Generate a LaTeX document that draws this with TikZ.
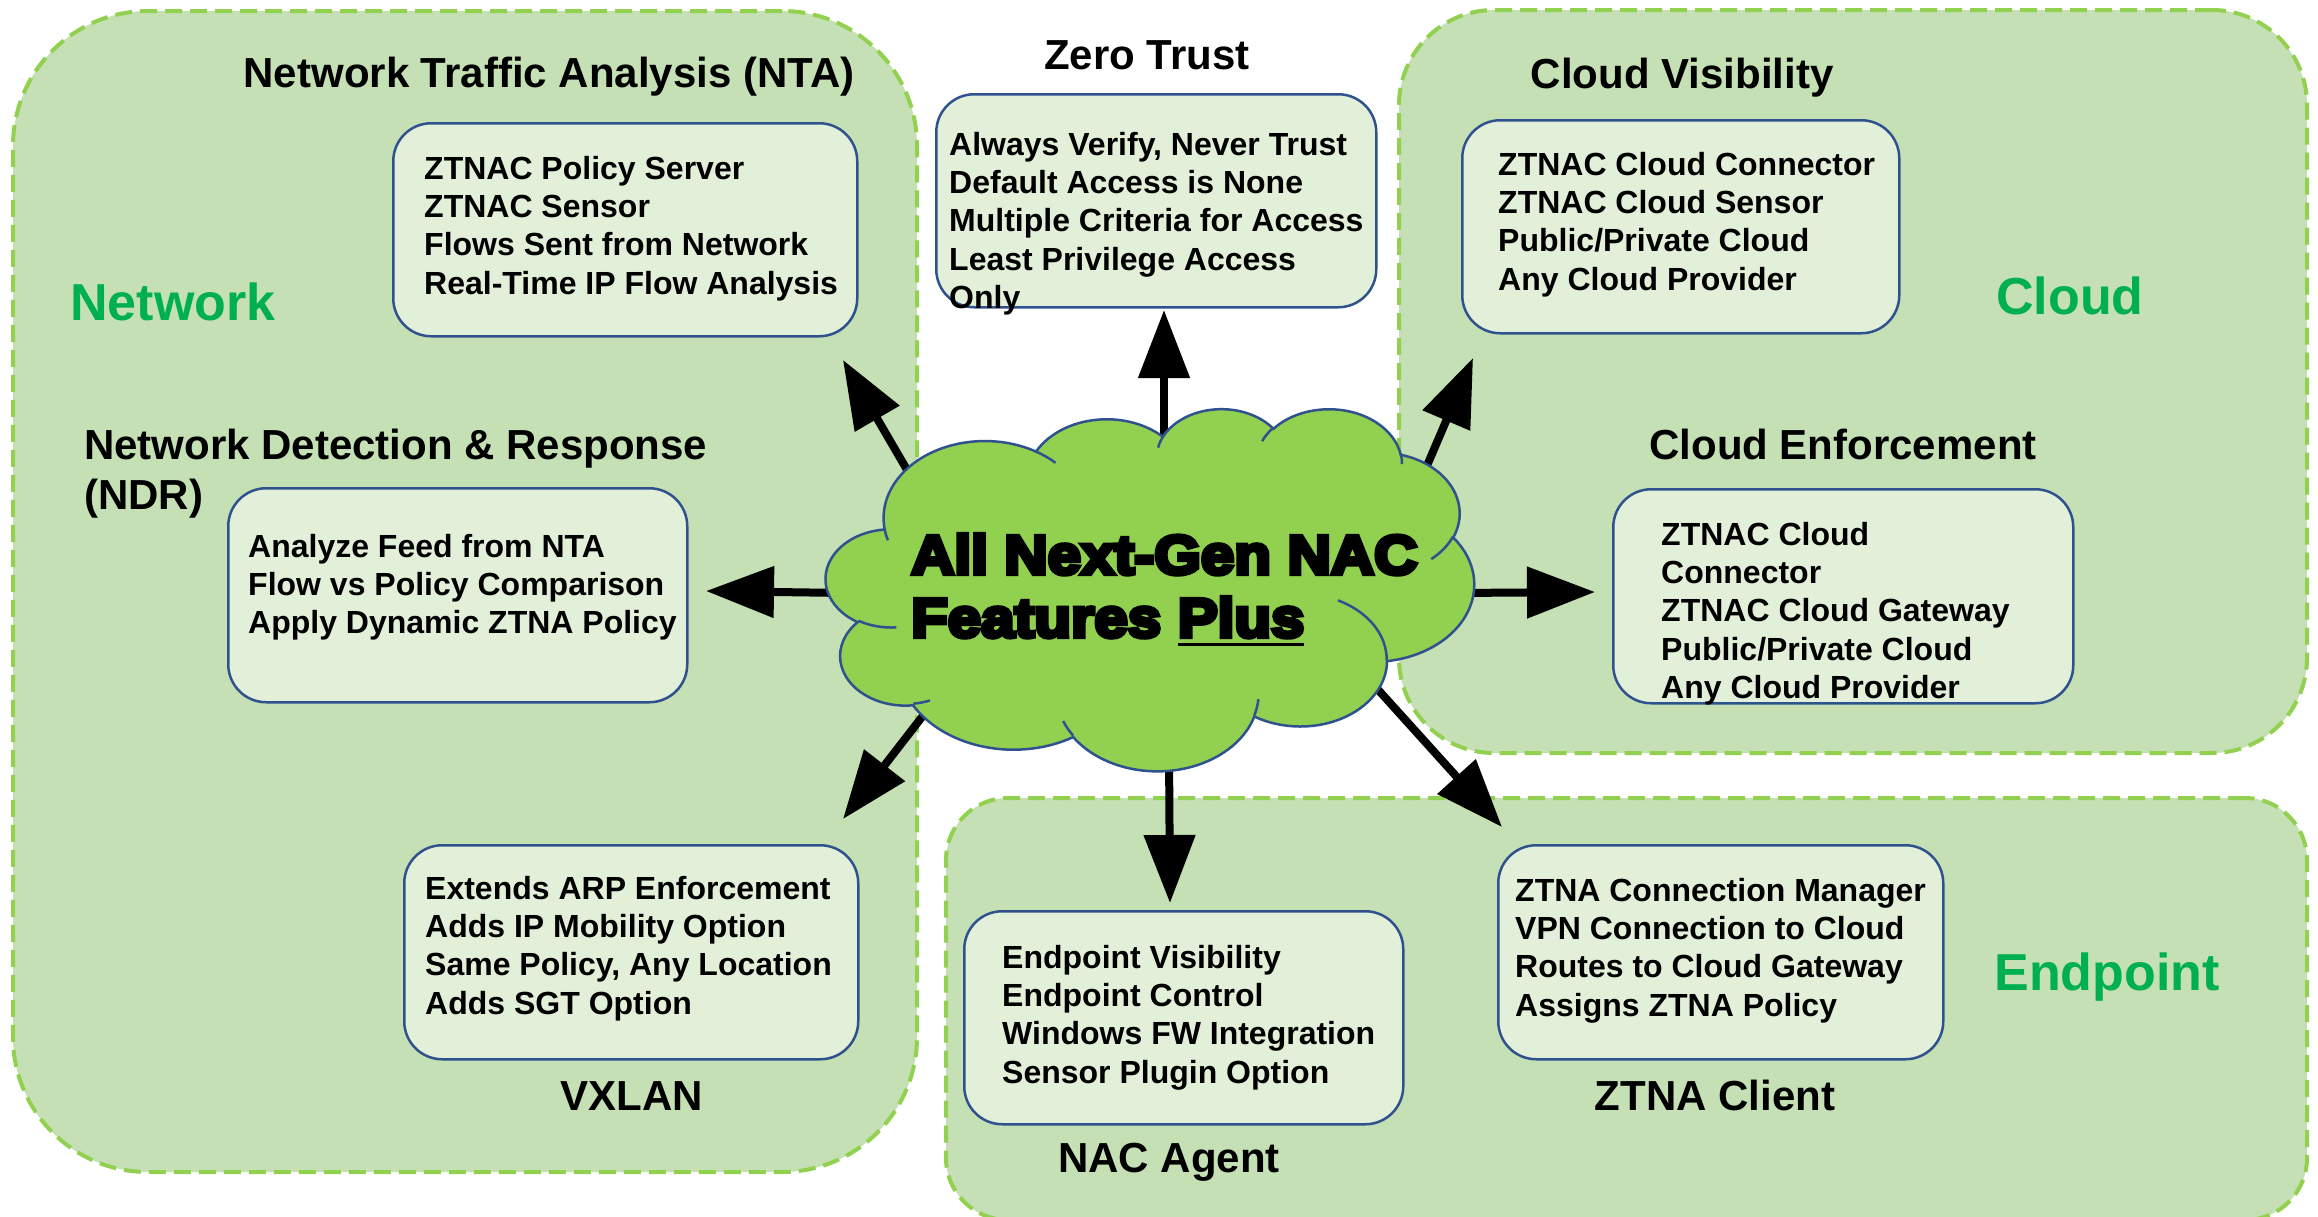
\documentclass[tikz,border=0pt]{standalone}
\usepackage{fontspec}
\setmainfont{Liberation Sans}
\newfontfamily\cloudfont{Liberation Sans}[FakeStretch=1.09]
\usetikzlibrary{arrows.meta}
\definecolor{regfill}{HTML}{C5E0B4}
\definecolor{regline}{HTML}{92D050}
\definecolor{boxfill}{HTML}{E2F0D9}
\definecolor{boxline}{HTML}{2F528F}
\definecolor{cloudfill}{HTML}{92D050}
\definecolor{labgreen}{HTML}{00B050}
\newcommand{\tlines}[2][38.4pt]{\vtop{\baselineskip=#1\lineskiplimit=-100pt\lineskip=0pt\relax #2}}
\newcommand{\ulplus}[1]{\setbox0\hbox{#1}\rlap{\rule[-9pt]{\wd0}{3.5pt}}\box0}
\newcommand{\heavytext}[1]{\special{pdf:literal direct 2 Tr 4.4 w}#1\special{pdf:literal direct 0 Tr 1 w}}
\tikzset{
  region/.style={fill=regfill, draw=regline, line width=4pt, dash pattern=on 17pt off 8pt, anchor=north west, inner sep=0pt},
  infobox/.style={fill=boxfill, draw=boxline, line width=2.5pt, rounded corners=38pt, anchor=north west, inner sep=0pt},
  boxtext/.style={anchor=base west, inner sep=0pt, font=\bfseries\fontsize{32}{38.4}\selectfont},
  title/.style={anchor=base, inner sep=0pt, font=\bfseries\fontsize{42}{50}\selectfont},
  titleleft/.style={title, anchor=base west},
  grouplabel/.style={anchor=base, inner sep=0pt, text=labgreen, font=\bfseries\fontsize{52}{60}\selectfont},
  bigarrow/.style={line width=8pt, -{Triangle[length=68pt,width=50pt]}},
  cloudshape/.style={fill=cloudfill, draw=boxline, line width=2.5pt},
  cloudinner/.style={draw=boxline, line width=2.5pt},
}
\begin{document}
\begin{tikzpicture}[x=1pt,y=-1pt]
\useasboundingbox (0,0) rectangle (2318,1216);
\clip (0,0) rectangle (2318,1216);

% group regions
\node[region, rounded corners=135pt, minimum width=904pt, minimum height=1161pt] (netreg) at (11,9) {};
\node[region, rounded corners=95pt, minimum width=908pt, minimum height=743pt] (cloudreg) at (1397,8) {};
\node[region, rounded corners=62pt, minimum width=1361pt, minimum height=422pt] (endreg) at (944,796) {};

% info boxes
\node[infobox, minimum width=464pt, minimum height=213pt] (ntabox) at (392,122) {};
\node[infobox, minimum width=440pt, minimum height=213pt] (ztbox) at (935,93) {};
\node[infobox, minimum width=459pt, minimum height=214pt] (ndrbox) at (227,487) {};
\node[infobox, minimum width=454pt, minimum height=214pt] (vxbox) at (403,844) {};
\node[infobox, minimum width=437pt, minimum height=213pt] (cvbox) at (1461,119) {};
\node[infobox, minimum width=460pt, minimum height=214pt] (cebox) at (1612,488) {};
\node[infobox, minimum width=439pt, minimum height=213pt] (nacbox) at (963,910) {};
\node[infobox, minimum width=445pt, minimum height=214pt] (ztnabox) at (1497,844) {};

% arrow end points
\coordinate (sNTA) at (917,487);   \coordinate (tNTA) at (843,360);
\coordinate (sZT) at (1164,450);   \coordinate (tZT) at (1164,310);
\coordinate (sCV) at (1420,482);   \coordinate (tCV) at (1473,358);
\coordinate (sCE) at (1455,593);   \coordinate (tCE) at (1595,592);
\coordinate (sNDR) at (845,593);   \coordinate (tNDR) at (706,591);
\coordinate (sVX) at (932,704);    \coordinate (tVX) at (843,819);
\coordinate (sNAC) at (1169,750);  \coordinate (tNAC) at (1170,903);
\coordinate (sZTNA) at (1363,673); \coordinate (tZTNA) at (1502,827);
\draw[bigarrow] (sNTA) -- (tNTA);
\draw[bigarrow] (sZT) -- (tZT);
\draw[bigarrow] (sCV) -- (tCV);
\draw[bigarrow] (sCE) -- (tCE);
\draw[bigarrow] (sNDR) -- (tNDR);
\draw[bigarrow] (sVX) -- (tVX);
\draw[bigarrow] (sNAC) -- (tNAC);
\draw[bigarrow] (sZTNA) -- (tZTNA);

% cloud
\begin{scope}[shift={(826,408)}, xscale=0.15, yscale=0.083796]
\path[cloudshape] (390,1437)
  arc[start angle=-187.74, delta angle=128.11, x radius=675.3, y radius=919.0]
  arc[start angle=-152.03, delta angle=106.57, x radius=533.3, y radius=726.7]
  arc[start angle=-153.49, delta angle=116.16, x radius=436.5, y radius=594.5]
  arc[start angle=-139.71, delta angle=129.50, x radius=485.7, y radius=659.5]
  arc[start angle=-74.77, delta angle=97.98, x radius=533.3, y radius=727.3]
  arc[start angle=-37.53, delta angle=119.39, x radius=677.5, y radius=922.0]
  arc[start angle=0.46, delta angle=121.51, x radius=578.5, y radius=786.7]
  arc[start angle=16.84, delta angle=129.39, x radius=675.2, y radius=921.5]
  arc[start angle=58.98, delta angle=91.21, x radius=772.0, y radius=1054.3]
  arc[start angle=-276.69, delta angle=139.79, x radius=436.0, y radius=591.8]
  arc[start angle=-239.65, delta angle=143.76, x radius=434.5, y radius=594.5]
  -- cycle;
\path[cloudinner]
  (469.3,2617.7) arc[start angle=85.55, delta angle=34.80, x radius=434.5, y radius=594.5]
  (692.8,3489.9) arc[start angle=68.23, delta angle=15.08, x radius=436.0, y radius=591.8]
  (1647.8,3909.0) arc[start angle=146.23, delta angle=12.24, x radius=675.2, y radius=921.5]
  (2882.7,3475.1) arc[start angle=4.74, delta angle=12.10, x radius=675.2, y radius=921.5]
  (3412.9,2295.4) arc[start angle=-64.03, delta angle=64.49, x radius=578.5, y radius=786.7]
  (4179.8,1535.4) arc[start angle=23.21, delta angle=26.44, x radius=533.3, y radius=727.3]
  (3832.4,542.6) arc[start angle=-10.21, delta angle=11.03, x radius=485.7, y radius=659.5]
  (2907.8,395.2) arc[start angle=-156.29, delta angle=16.58, x radius=485.7, y radius=659.5]
  (2214.1,472.0) arc[start angle=-167.73, delta angle=14.24, x radius=436.5, y radius=594.5]
  (1400.0,519.2) arc[start angle=-59.63, delta angle=13.91, x radius=675.3, y radius=919.0]
  (412.7,1578.9) arc[start angle=163.19, delta angle=9.07, x radius=675.3, y radius=919.0];
\end{scope}

% box texts
\node[boxtext] (ntatext) at (424,179) {\tlines{\hbox{ZTNAC Policy Server}\hbox{ZTNAC Sensor}\hbox{Flows Sent from Network}\hbox{Real-Time IP Flow Analysis}}};
\node[boxtext] (zttext) at (949,155) {\tlines{\hbox{Always Verify, Never Trust}\hbox{Default Access is None}\hbox{Multiple Criteria for Access}\hbox{Least Privilege Access}\hbox{Only}}};
\node[boxtext] (ndrtext) at (248,557) {\tlines{\hbox{Analyze Feed from NTA}\hbox{Flow vs Policy Comparison}\hbox{Apply Dynamic ZTNA Policy}}};
\node[boxtext] (vxtext) at (425,899) {\tlines{\hbox{Extends ARP Enforcement}\hbox{Adds IP Mobility Option}\hbox{Same Policy, Any Location}\hbox{Adds SGT Option}}};
\node[boxtext] (cvtext) at (1498,175) {\tlines{\hbox{ZTNAC Cloud Connector}\hbox{ZTNAC Cloud Sensor}\hbox{Public/Private Cloud}\hbox{Any Cloud Provider}}};
\node[boxtext] (cetext) at (1661,545) {\tlines{\hbox{ZTNAC Cloud}\hbox{Connector}\hbox{ZTNAC Cloud Gateway}\hbox{Public/Private Cloud}\hbox{Any Cloud Provider}}};
\node[boxtext] (nactext) at (1002,968) {\tlines{\hbox{Endpoint Visibility}\hbox{Endpoint Control}\hbox{Windows FW Integration}\hbox{Sensor Plugin Option}}};
\node[boxtext] (ztnatext) at (1515,901) {\tlines{\hbox{ZTNA Connection Manager}\hbox{VPN Connection to Cloud}\hbox{Routes to Cloud Gateway}\hbox{Assigns ZTNA Policy}}};

% titles
\node[title] (ntatitle) at (549,87) {Network Traffic Analysis (NTA)};
\node[title] (zttitle) at (1147,69) {Zero Trust};
\node[titleleft] (ndrtitle) at (84,459) {\tlines[50pt]{\hbox{Network Detection \& Response}\hbox{(NDR)}}};
\node[title] (vxtitle) at (632,1110) {VXLAN};
\node[title] (cvtitle) at (1682,88) {Cloud Visibility};
\node[title] (cetitle) at (1843,459) {Cloud Enforcement};
\node[title] (nactitle) at (1169,1172) {NAC Agent};
\node[title] (ztnatitle) at (1715,1110) {ZTNA Client};

% group labels
\node[grouplabel] (netlabel) at (173,320) {Network};
\node[grouplabel] (cloudlabel) at (2070,314) {Cloud};
\node[grouplabel] (endlabel) at (2107,990) {Endpoint};

% cloud text (last, heavy)
\node[anchor=base west, inner sep=0pt, font=\cloudfont\bfseries\fontsize{55}{63}\selectfont] (cloudtext) at (911,574)
  {\heavytext{\tlines[63pt]{\hbox{All Next-Gen NAC}\hbox{Features \ulplus{Plus}}}}};
\end{tikzpicture}
\end{document}
